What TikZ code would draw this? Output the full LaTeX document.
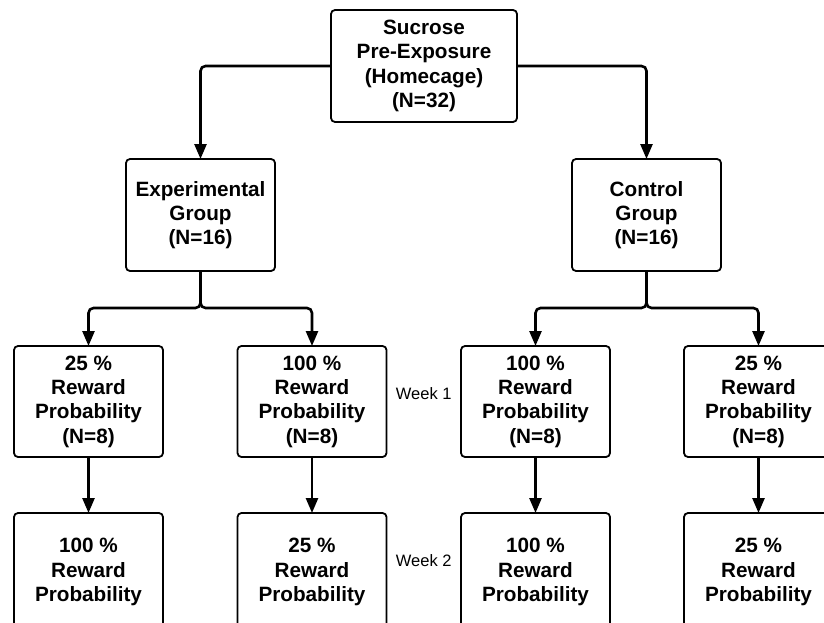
\documentclass[tikz,border=0pt]{standalone}
\usepackage{fontspec}
\setmainfont{Liberation Sans}
\usetikzlibrary{arrows.meta,positioning,calc}
\tikzset{
  stage/.style={rectangle,draw,line width=1.8pt,rounded corners=4pt,minimum width=149pt,minimum height=112pt,inner sep=0pt,outer sep=0pt,align=center,font=\fontsize{20.7}{24.3}\selectfont\bfseries},
  link/.style={-{Triangle[length=15pt,width=12pt]},line width=2.6pt,rounded corners=5pt},
  week/.style={font=\fontsize{16.5}{20}\selectfont},
}

\begin{document}
\begin{tikzpicture}[x=1pt,y=1pt]
  \useasboundingbox (0,0) rectangle (824,-623);
  \node[stage,minimum width=186pt] (pre) at (424,-66) {Sucrose\\Pre-Exposure\\(Homecage)\\(N=32)};
  \node[stage,below=37pt of pre,xshift=-223.5pt] (exp) {Experimental\\Group\\(N=16)};
  \node[stage,below=37pt of pre,xshift=222.5pt] (ctrl) {Control\\Group\\(N=16)};
  % week 1
  \node[stage,below=75pt of exp,xshift=-112pt,minimum height=111pt] (ea1) {25 \%\\Reward\\Probability\\(N=8)};
  \node[stage,below=75pt of exp,xshift=111.5pt,minimum height=111pt] (eb1) {100 \%\\Reward\\Probability\\(N=8)};
  \node[stage,below=75pt of ctrl,xshift=-111pt,minimum height=111pt] (ca1) {100 \%\\Reward\\Probability\\(N=8)};
  \node[stage,below=75pt of ctrl,xshift=112pt,minimum height=111pt] (cb1) {25 \%\\Reward\\Probability\\(N=8)};
  % week 2
  \node[stage,below=56pt of ea1,minimum height=118pt] (ea2) {100 \%\\Reward\\Probability};
  \node[stage,below=56pt of eb1,minimum height=118pt] (eb2) {25 \%\\Reward\\Probability};
  \node[stage,below=56pt of ca1,minimum height=118pt] (ca2) {100 \%\\Reward\\Probability};
  \node[stage,below=56pt of cb1,minimum height=118pt] (cb2) {25 \%\\Reward\\Probability};
  \node[week,yshift=8pt] (w1) at ($(eb1)!0.5!(ca1)$) {Week 1};
  \node[week,yshift=11pt] (w2) at ($(eb2)!0.5!(ca2)$) {Week 2};
  \coordinate[below=37pt of exp] (esplit);
  \coordinate[below=37pt of ctrl] (csplit);
  \draw[link] (pre.west) -| (exp.north);
  \draw[link] (pre.east) -| (ctrl.north);
  \draw[link] (exp.south) -- (esplit) -| (ea1.north);
  \draw[link] (exp.south) -- (esplit) -| (eb1.north);
  \draw[link] (ctrl.south) -- (csplit) -| (ca1.north);
  \draw[link] (ctrl.south) -- (csplit) -| (cb1.north);
  \foreach \g in {ea,eb,ca,cb}
    \draw[link] (\g1) -- (\g2);
\end{tikzpicture}
\end{document}
